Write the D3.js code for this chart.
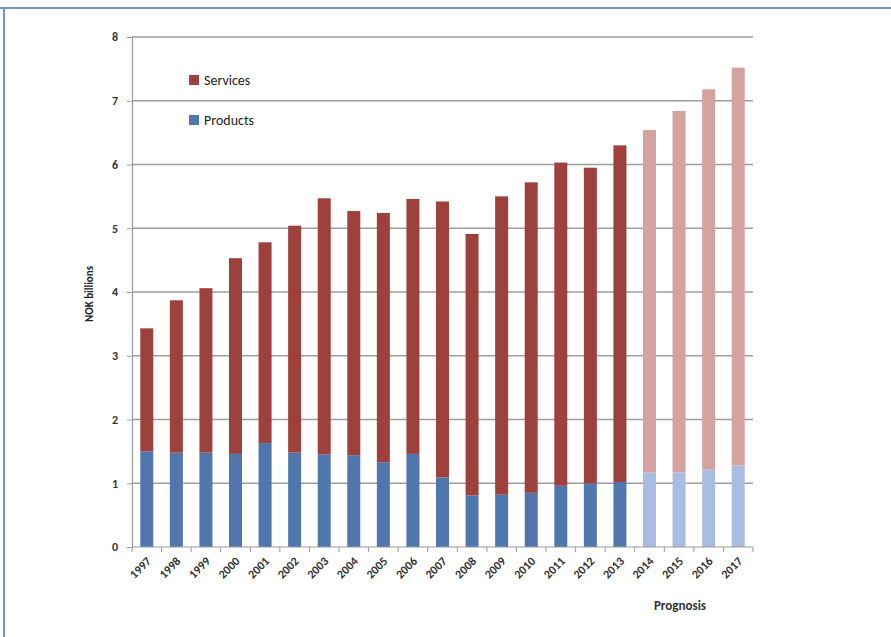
<!DOCTYPE html>
<html>
<head>
<meta charset="utf-8">
<script src="https://cdn.jsdelivr.net/npm/d3@7"></script>
<style>
  html, body { margin: 0; padding: 0; background: #ffffff; }
  svg { display: block; }
</style>
</head>
<body>
<svg id="chart" width="891" height="637"></svg>
<script>
// Norwegian market, NOK billions: products and services by year (2014–2017 forecast)
const years = ["1997","1998","1999","2000","2001","2002","2003","2004","2005","2006","2007",
               "2008","2009","2010","2011","2012","2013","2014","2015","2016","2017"];
const products = [1.50,1.48,1.48,1.46,1.63,1.48,1.45,1.44,1.33,1.46,1.09,
                  0.81,0.82,0.85,0.96,1.00,1.02,1.17,1.17,1.22,1.28];
const totals   = [3.43,3.87,4.06,4.53,4.78,5.04,5.47,5.27,5.24,5.46,5.42,
                  4.91,5.50,5.72,6.03,5.95,6.30,6.54,6.84,7.18,7.52];
const forecastYears = ["2014","2015","2016","2017"];
const yTicks = [0,1,2,3,4,5,6,7,8];
const seriesNames = ["Services","Products"];

const rows = years.map((yr, i) => ({
  year: yr,
  Products: products[i],
  Services: +(totals[i] - products[i]).toFixed(2)
}));

const colors = {
  Products: "#4f76ad", Services: "#9e403c",
  ProductsForecast: "#a9bde2", ServicesForecast: "#d4a29f"
};

const svg = d3.select("#chart");
const font = "Carlito, Lato, 'Open Sans', sans-serif";

// outer frame (top and left edges)
svg.append("line").attr("x1", 0).attr("x2", 891).attr("y1", 8).attr("y2", 8)
  .attr("stroke", "#6f97cf").attr("stroke-width", 2);
svg.append("line").attr("x1", 4).attr("x2", 4).attr("y1", 8).attr("y2", 637)
  .attr("stroke", "#6f97cf").attr("stroke-width", 2);

const plotLeft = 132, plotRight = 753, plotTop = 37, plotBottom = 547;

const x = d3.scaleBand().domain(years).range([plotLeft, plotRight]).paddingInner(0.56).paddingOuter(0.28);
const y = d3.scaleLinear().domain([0, 8]).range([plotBottom, plotTop]);

// gridlines
svg.append("g").selectAll("line").data(yTicks.filter(t => t > 0)).join("line")
  .attr("x1", plotLeft).attr("x2", plotRight)
  .attr("y1", d => y(d)).attr("y2", d => y(d))
  .attr("stroke", "#9e9e9e").attr("stroke-width", 1.6);

// y axis
const yAxis = svg.append("g").attr("transform", `translate(${plotLeft},0)`)
  .call(d3.axisLeft(y).tickValues(yTicks).tickSize(5).tickPadding(9).tickFormat(d3.format("d")));
yAxis.select(".domain").attr("stroke", "#9a9a9a").attr("stroke-width", 1.2);
yAxis.selectAll(".tick line").attr("stroke", "#9a9a9a");
yAxis.selectAll("text").attr("font-family", font).attr("font-size", 12)
  .attr("font-weight", "bold").attr("fill", "#333");

// stacked bars
const stack = d3.stack().keys(["Products", "Services"])(rows);
const isForecast = yr => forecastYears.includes(yr);
svg.append("g").selectAll("g").data(stack).join("g")
  .each(function(layer) {
    d3.select(this).selectAll("rect").data(layer).join("rect")
      .attr("x", d => x(d.data.year))
      .attr("width", x.bandwidth())
      .attr("y", d => y(d[1]))
      .attr("height", d => y(d[0]) - y(d[1]))
      .attr("fill", d => colors[layer.key + (isForecast(d.data.year) ? "Forecast" : "")]);
  });

// x axis
const xAxis = svg.append("g").attr("transform", `translate(0,${plotBottom})`);
xAxis.append("line").attr("x1", plotLeft).attr("x2", plotRight).attr("stroke", "#9a9a9a").attr("stroke-width", 1.2);
xAxis.selectAll("line.tk").data(d3.range(years.length + 1)).join("line").attr("class", "tk")
  .attr("x1", i => plotLeft + i * (plotRight - plotLeft) / years.length)
  .attr("x2", i => plotLeft + i * (plotRight - plotLeft) / years.length)
  .attr("y1", 0).attr("y2", 5).attr("stroke", "#9a9a9a");
xAxis.selectAll("text").data(years).join("text")
  .attr("transform", d => `translate(${x(d) + x.bandwidth() / 2 + 5},${15}) rotate(-45)`)
  .attr("text-anchor", "end")
  .attr("font-family", font).attr("font-size", 12).attr("font-weight", "bold").attr("fill", "#333")
  .text(d => d);

// forecast caption
svg.append("text").attr("x", 680).attr("y", 610).attr("text-anchor", "middle")
  .attr("font-family", font).attr("font-size", 13).attr("font-weight", "bold").attr("fill", "#333")
  .text("Prognosis");

// y axis title
svg.append("text").attr("transform", `translate(93,${y(4) + 2}) rotate(-90)`)
  .attr("text-anchor", "middle")
  .attr("font-family", font).attr("font-size", 11).attr("font-weight", "bold").attr("fill", "#222")
  .text("NOK billions");

// legend
const legend = svg.append("g");
seriesNames.forEach((name, i) => {
  const ly = 80 + i * 40;
  legend.append("rect").attr("x", 189).attr("y", ly - 5).attr("width", 10).attr("height", 10)
    .attr("fill", colors[name]);
  legend.append("text").attr("x", 204).attr("y", ly + 5)
    .attr("font-family", font).attr("font-size", 14).attr("fill", "#222")
    .text(name);
});
</script>
</body>
</html>
